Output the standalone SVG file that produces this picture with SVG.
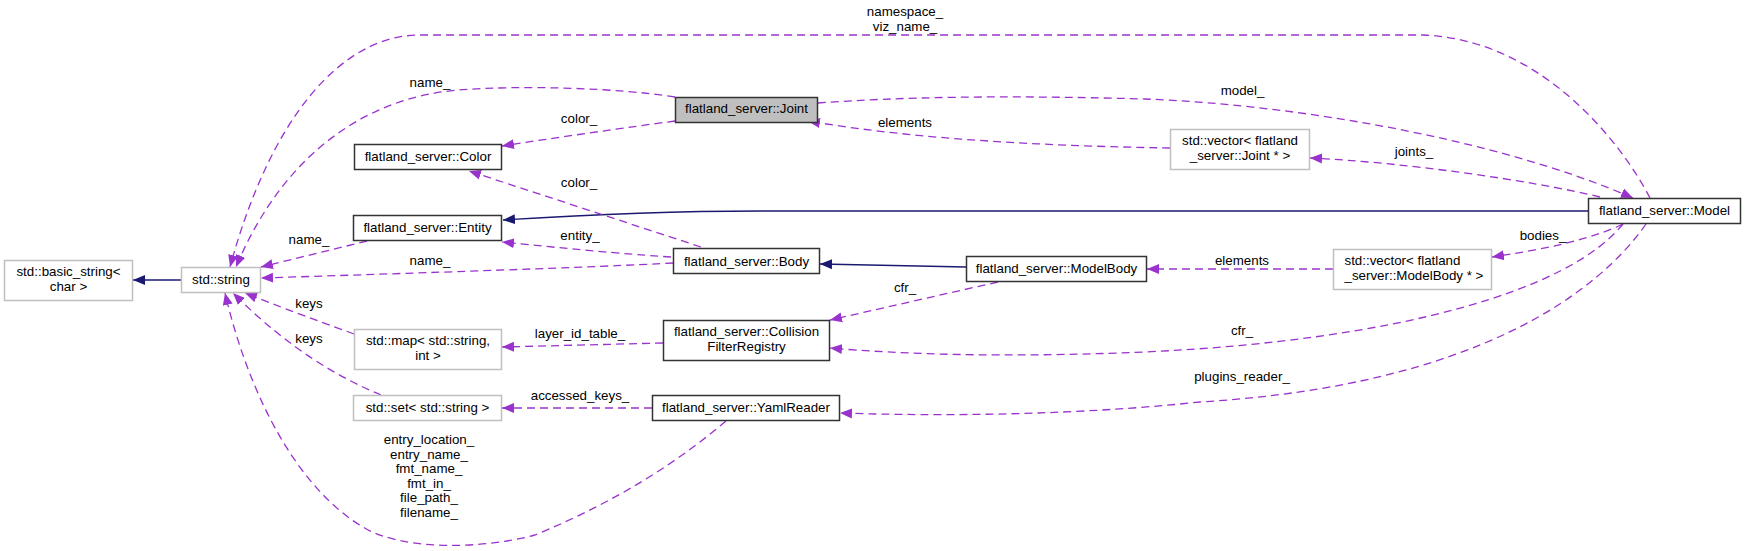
<svg xmlns="http://www.w3.org/2000/svg" width="1745" height="551" viewBox="0 0 1745 551">
<defs>
<style>
text{font-family:"Liberation Sans",Arial,Helvetica,sans-serif;font-size:13.33px;fill:#000;text-anchor:middle}
.n rect{fill:#fff;stroke:#333;stroke-width:1.5}
.n.ext rect{stroke:#bfbfbf}
.n.cur rect{fill:#bfbfbf}
.e{fill:none;stroke:#9a32cd;stroke-width:1.3;stroke-dasharray:8,5}
.i{fill:none;stroke:#191970;stroke-width:1.3}
</style>
<marker id="ap" markerUnits="userSpaceOnUse" markerWidth="13" markerHeight="11" refX="12" refY="5.5" orient="auto">
<path d="M0,0.5 L12,5.5 L0,10.5 z" fill="#9a32cd"/>
</marker>
<marker id="an" markerUnits="userSpaceOnUse" markerWidth="13" markerHeight="11" refX="12" refY="5.5" orient="auto">
<path d="M0,0.5 L12,5.5 L0,10.5 z" fill="#191970"/>
</marker>
</defs>
<rect width="1745" height="551" fill="#fff"/>
<g id="edges">
<path class="i" d="M181,280 L133,280" marker-end="url(#an)"/>
<path class="i" d="M1588,211 L760,211 C680,211 580,215 503,220" marker-end="url(#an)"/>
<path class="i" d="M966,267 L820,264" marker-end="url(#an)"/>
<path class="e" d="M1650,198 C1620,140 1540,40 1424,35 L420,35 C340,35 270,120 230,267" marker-end="url(#ap)"/>
<path class="e" d="M675,97 C620,88 520,85 459,90 C370,97 285,150 236,267" marker-end="url(#ap)"/>
<path class="e" d="M675,121 C630,127 560,137 502,146" marker-end="url(#ap)"/>
<path class="e" d="M818,103 C900,97 1000,95 1145,99 C1300,105 1500,140 1633,198" marker-end="url(#ap)"/>
<path class="e" d="M1170,148 C1050,146 920,140 808,121" marker-end="url(#ap)"/>
<path class="e" d="M1600,197 C1530,180 1400,162 1310,158" marker-end="url(#ap)"/>
<path class="e" d="M701,247 L469,171" marker-end="url(#ap)"/>
<path class="e" d="M671,257 C640,255 600,252 502,242" marker-end="url(#ap)"/>
<path class="e" d="M673,263 C600,267 421,273 261,278" marker-end="url(#ap)"/>
<path class="e" d="M367,241 L261,267" marker-end="url(#ap)"/>
<path class="e" d="M354,334 C330,325 295,313 245,293" marker-end="url(#ap)"/>
<path class="e" d="M381,395 C340,378 290,350 233,293" marker-end="url(#ap)"/>
<path class="e" d="M726,421 C680,460 620,500 535,535 C480,550 400,550 363,527 C300,490 250,400 225,293" marker-end="url(#ap)"/>
<path class="e" d="M663,343 L502,347" marker-end="url(#ap)"/>
<path class="e" d="M652,408 L502,408" marker-end="url(#ap)"/>
<path class="e" d="M998,282 L830,320" marker-end="url(#ap)"/>
<path class="e" d="M1623,224 C1570,290 1400,340 1145,352 C1000,358 900,354 830,348" marker-end="url(#ap)"/>
<path class="e" d="M1646,224 C1600,290 1480,385 1200,402 C1050,418 900,415 840,413" marker-end="url(#ap)"/>
<path class="e" d="M1333,269 L1147,269" marker-end="url(#ap)"/>
<path class="e" d="M1623,224 C1590,240 1540,250 1492,257" marker-end="url(#ap)"/>
</g>
<g id="edge-labels">
<text x="905" y="16">namespace_</text>
<text x="905" y="30.7">viz_name_</text>
<text x="430" y="87">name_</text>
<text x="1242.5" y="95">model_</text>
<text x="579" y="123">color_</text>
<text x="905" y="127">elements</text>
<text x="1414" y="156">joints_</text>
<text x="579" y="187">color_</text>
<text x="1543" y="240">bodies_</text>
<text x="580" y="240">entity_</text>
<text x="309" y="244">name_</text>
<text x="430" y="265">name_</text>
<text x="1242" y="265">elements</text>
<text x="905" y="292">cfr_</text>
<text x="309" y="308">keys</text>
<text x="1242" y="335">cfr_</text>
<text x="580" y="338">layer_id_table_</text>
<text x="309" y="343">keys</text>
<text x="1242" y="381">plugins_reader_</text>
<text x="580" y="400">accessed_keys_</text>
<text x="429" y="444">entry_location_</text>
<text x="429" y="458.5">entry_name_</text>
<text x="429" y="473">fmt_name_</text>
<text x="429" y="487.5">fmt_in_</text>
<text x="429" y="502">file_path_</text>
<text x="429" y="516.7">filename_</text>
</g>
<g id="node-basic_string" class="n ext"><rect x="4.5" y="260.5" width="128" height="40"/><text x="68.5" y="276">std::basic_string&lt;</text><text x="68.5" y="291">char &gt;</text></g>
<g id="node-string" class="n ext"><rect x="181.5" y="267.5" width="79" height="25"/><text x="221" y="283.5">std::string</text></g>
<g id="node-Color" class="n"><rect x="354.5" y="144.5" width="147" height="25"/><text x="428" y="161">flatland_server::Color</text></g>
<g id="node-Entity" class="n"><rect x="353.5" y="215.5" width="148" height="25"/><text x="427.5" y="232">flatland_server::Entity</text></g>
<g id="node-Joint" class="n cur"><rect x="675.5" y="97.5" width="142" height="25"/><text x="746.5" y="113">flatland_server::Joint</text></g>
<g id="node-Body" class="n"><rect x="673.5" y="248.5" width="146" height="25"/><text x="746.5" y="265.5">flatland_server::Body</text></g>
<g id="node-ModelBody" class="n"><rect x="966.5" y="256.5" width="180" height="25"/><text x="1056.5" y="273">flatland_server::ModelBody</text></g>
<g id="node-vector-Joint" class="n ext"><rect x="1170.5" y="129.5" width="139" height="40"/><text x="1240" y="145">std::vector&lt; flatland</text><text x="1240" y="160">_server::Joint * &gt;</text></g>
<g id="node-Model" class="n"><rect x="1588.5" y="198.5" width="152" height="25"/><text x="1664.5" y="215">flatland_server::Model</text></g>
<g id="node-vector-ModelBody" class="n ext"><rect x="1333.5" y="249.5" width="158" height="40"/><text x="1344.5" y="265" style="text-anchor:start">std::vector&lt; flatland</text><text x="1344.5" y="280" style="text-anchor:start">_server::ModelBody * &gt;</text></g>
<g id="node-map" class="n ext"><rect x="354.5" y="329.5" width="147" height="40"/><text x="428" y="345">std::map&lt; std::string,</text><text x="428" y="360">int &gt;</text></g>
<g id="node-set" class="n ext"><rect x="353.5" y="395.5" width="148" height="25"/><text x="427.5" y="411.5">std::set&lt; std::string &gt;</text></g>
<g id="node-CollisionFilterRegistry" class="n"><rect x="663.5" y="320.5" width="166" height="40"/><text x="746.5" y="336">flatland_server::Collision</text><text x="746.5" y="351">FilterRegistry</text></g>
<g id="node-YamlReader" class="n"><rect x="652.5" y="395.5" width="187" height="25"/><text x="746" y="411.5">flatland_server::YamlReader</text></g>
</svg>
